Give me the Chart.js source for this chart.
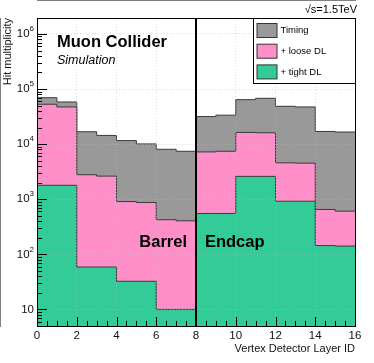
<!DOCTYPE html>
<html>
<head>
<meta charset="utf-8">
<script src="https://cdn.jsdelivr.net/npm/chart.js@4/dist/chart.umd.min.js"></script>
<style>
  html, body { margin: 0; padding: 0; background: #fff; }
  canvas { display: block; }
</style>
</head>
<body>
<canvas id="hitChart" width="374" height="363"></canvas>
<script>
// one bin per vertex detector layer (0..15)
const layers = [0, 1, 2, 3, 4, 5, 6, 7, 8, 9, 10, 11, 12, 13, 14, 15];
const timingHits = [69700, 58300, 16800, 14400, 11600, 10100, 8070, 7430, 31700, 33600, 64200, 68000, 48700, 47400, 17000, 16600];
const looseHits = [53000, 47400, 2790, 2630, 908, 871, 425, 406, 7230, 7430, 16300, 16100, 4580, 4520, 652, 608];
const tightHits = [1790, 1790, 58.8, 58.8, 32.4, 32.4, 10, 10, 552, 552, 2600, 2600, 920, 920, 144, 141];
const xTicks = [0, 2, 4, 6, 8, 10, 12, 14, 16];
const yDecades = [10, 100, 1000, 10000, 100000, 1000000];

const FONT = '"Liberation Sans", Arial, sans-serif';

// histogram as a stepped line: each value holds from layer i to i+1
const toSteps = (vals) => {
    const pts = layers.map((l, i) => ({ x: l, y: vals[i] }));
    pts.push({ x: layers[layers.length - 1] + 1, y: vals[vals.length - 1] });
    return pts;
};

const series = [
    { label: 'Timing', data: timingHits, color: '#999999', order: 3 },
    { label: '+ loose DL', data: looseHits, color: '#ff8fc8', order: 2 },
    { label: '+ tight DL', data: tightHits, color: '#33cc99', order: 1 },
];

const overlay = {
    id: 'overlay',
    afterDraw(chart) {
        const { ctx, chartArea: a, scales: { x, y } } = chart;
        ctx.save();

        // tick marks inside the frame, ROOT style
        ctx.strokeStyle = '#000';
        ctx.lineWidth = 1;
        ctx.beginPath();
        for (let v = 0; v <= 16; v += 0.5) {
            const px = Math.round(x.getPixelForValue(v)) + 0.5;
            const len = v % 2 === 0 ? 9 : 5;
            ctx.moveTo(px, a.bottom);
            ctx.lineTo(px, a.bottom - len);
        }
        for (let d = 0; d <= 6; d++) {
            for (let m = 1; m <= 9; m++) {
                const v = m * Math.pow(10, d);
                if (v < y.min || v > y.max) continue;
                const py = Math.round(y.getPixelForValue(v)) + 0.5;
                ctx.moveTo(a.left, py);
                ctx.lineTo(a.left + (m === 1 ? 10 : 5), py);
            }
        }
        ctx.stroke();

        // frame
        ctx.strokeRect(Math.round(a.left) + 0.5, Math.round(a.top) + 0.5, Math.round(a.right - a.left), Math.round(a.bottom - a.top));

        // barrel / endcap separator
        ctx.lineWidth = 2;
        ctx.beginPath();
        const sep = Math.round(x.getPixelForValue(8));
        ctx.moveTo(sep, a.top);
        ctx.lineTo(sep, a.bottom);
        ctx.stroke();

        // y tick labels 10^n
        ctx.fillStyle = '#111';
        ctx.textBaseline = 'middle';
        yDecades.forEach((v) => {
            const py = y.getPixelForValue(v);
            const exp = Math.round(Math.log10(v));
            const right = a.left - 3;
            if (exp === 1) {
                ctx.font = '11.5px ' + FONT;
                ctx.textAlign = 'right';
                ctx.fillText('10', right, py);
            } else {
                ctx.font = '8px ' + FONT;
                ctx.textAlign = 'right';
                const ew = ctx.measureText(String(exp)).width;
                ctx.fillText(String(exp), right, py - 5);
                ctx.font = '11.5px ' + FONT;
                ctx.fillText('10', right - ew, py);
            }
        });

        // labels
        ctx.fillStyle = '#000';
        ctx.textBaseline = 'alphabetic';
        ctx.textAlign = 'left';
        ctx.font = 'bold 16.5px ' + FONT;
        ctx.fillText('Muon Collider', a.left + 20, a.top + 29);
        ctx.font = 'italic 12.5px ' + FONT;
        ctx.fillText('Simulation', a.left + 20, a.top + 46);
        ctx.font = 'bold 16.5px ' + FONT;
        const labelY = y.getPixelForValue(136);
        ctx.fillText('Barrel', x.getPixelForValue(5.15), labelY);
        ctx.fillText('Endcap', x.getPixelForValue(8.45), labelY);

        ctx.font = '11px ' + FONT;
        ctx.textAlign = 'right';
        ctx.fillText('\u221As=1.5TeV', a.right + 2, a.top - 5);

        // legend box
        const lw = 102, lh = 65;
        const lx = Math.round(a.right - lw) + 0.5, ly = Math.round(a.top) + 0.5;
        ctx.fillStyle = '#fff';
        ctx.fillRect(lx, ly, lw, lh);
        ctx.lineWidth = 1;
        ctx.strokeStyle = '#000';
        ctx.strokeRect(lx, ly, lw, lh);
        ctx.font = '9.5px ' + FONT;
        ctx.textAlign = 'left';
        ctx.textBaseline = 'middle';
        series.forEach((s, i) => {
            const cy = ly + 12 + i * 20.7;
            ctx.fillStyle = s.color;
            ctx.fillRect(lx + 3.5, cy - 7, 20, 14);
            ctx.strokeStyle = '#333';
            ctx.strokeRect(lx + 3.5, cy - 7, 20, 14);
            ctx.fillStyle = '#000';
            ctx.fillText(s.label, lx + 27, cy);
        });

        ctx.restore();
    },
};

const gridStyle = { color: 'rgba(185,185,185,0.5)', drawTicks: false, z: 1 };

const chart = new Chart(document.getElementById('hitChart'), {
    type: 'line',
    data: {
        datasets: series.map((s) => ({
            label: s.label,
            data: toSteps(s.data),
            stepped: 'before',
            fill: 'start',
            backgroundColor: s.color,
            borderColor: '#3a3a3a',
            borderWidth: 1,
            pointRadius: 0,
            order: s.order,
        })),
    },
    options: {
        responsive: false,
        animation: false,
        devicePixelRatio: 1,
        layout: { padding: { top: 18, right: 19, left: 0, bottom: 0 } },
        plugins: { legend: { display: false }, tooltip: { enabled: false } },
        scales: {
            x: {
                type: 'linear',
                min: 0,
                max: 16,
                afterBuildTicks: (scale) => { scale.ticks = xTicks.map((v) => ({ value: v })); },
                afterFit: (scale) => { scale.height = 37; },
                ticks: { color: '#111', font: { family: FONT, size: 11.5 }, padding: 3, maxRotation: 0 },
                grid: gridStyle,
                border: { display: true, color: '#000', dash: [1, 2] },
                title: {
                    display: true,
                    text: 'Vertex Detector Layer ID',
                    align: 'end',
                    color: '#111',
                    font: { family: FONT, size: 11 },
                    padding: { top: 0, bottom: 7 },
                },
            },
            y: {
                type: 'logarithmic',
                min: 5,
                max: 1.95e6,
                afterBuildTicks: (scale) => { scale.ticks = yDecades.map((v) => ({ value: v })); },
                afterFit: (scale) => { scale.width = 37; },
                ticks: { display: false },
                grid: gridStyle,
                border: { display: true, color: '#000', dash: [1, 2] },
                title: {
                    display: true,
                    text: 'Hit multiplicity',
                    align: 'end',
                    color: '#111',
                    font: { family: FONT, size: 11 },
                    padding: { top: 1, bottom: 0 },
                },
            },
        },
    },
    plugins: [overlay],
});
</script>
</body>
</html>
